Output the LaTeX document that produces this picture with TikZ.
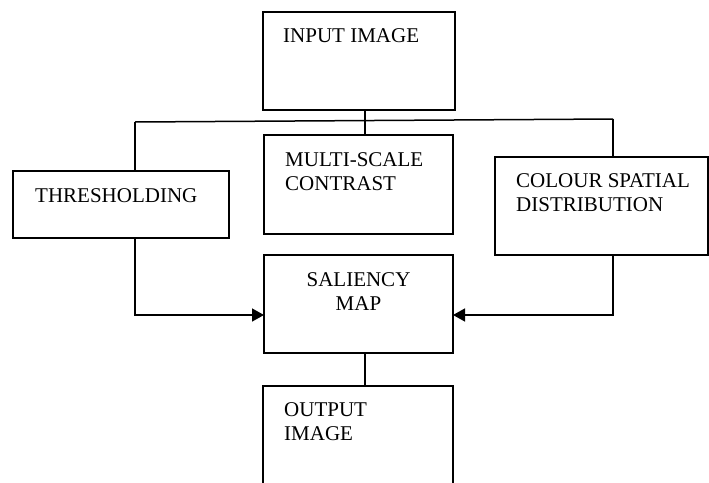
\documentclass[tikz,border=0pt]{standalone}
\usepackage{fontspec}
\setmainfont{Liberation Serif}
\usetikzlibrary{arrows.meta,calc}
\begin{document}
\begin{tikzpicture}[x=1pt,y=-1pt,
  box/.style={draw,line width=1.5pt,rectangle,inner sep=0pt,outer sep=0pt},
  lbl/.style={font=\fontsize{21}{24}\selectfont,inner sep=0pt,align=left,anchor=base west},
  clbl/.style={font=\fontsize{21}{24}\selectfont,inner sep=0pt,align=center,anchor=base},
  conn/.style={line width=1.5pt},
  arr/.style={line width=1.5pt,-{Triangle[length=12pt,width=13pt]}}]
\useasboundingbox (0,0) rectangle (709,482);
\clip (0,0) rectangle (709,482);
% boxes
\node[box,minimum width=192pt,minimum height=98pt] (input) at (359,61) {};
\node[box,minimum width=216pt,minimum height=67pt] (thr) at (121,204.5) {};
\node[box,minimum width=189pt,minimum height=99pt] (ms) at (358.5,184.5) {};
\node[box,minimum width=189pt,minimum height=98pt] (sal) at (358.5,304) {};
\node[box,minimum width=213pt,minimum height=98pt] (col) at (601.5,206) {};
\node[box,minimum width=190pt,minimum height=130pt] (out) at (358,451) {};
% texts (base anchor = baseline of last line)
\node[lbl] (tin) at (283,42) {INPUT IMAGE};
\node[lbl] (tthr) at (35,202) {THRESHOLDING};
\node[lbl] (tms) at (285,190) {MULTI-SCALE\\CONTRAST};
\node[clbl] (tsal) at (358.5,310) {SALIENCY\\MAP};
\node[lbl] (tcol) at (516,211) {COLOUR SPATIAL\\DISTRIBUTION};
\node[lbl] (tout) at (284,440) {OUTPUT\\IMAGE};
% junctions
\coordinate (jl) at (135,122);
\coordinate (jr) at (613,119);
\coordinate (jm) at (365,120.5);
\coordinate (al) at (135,315);
\coordinate (ar) at (613,315);
% connectors
\draw[conn] (jl) -- (jr);
\draw[conn] (input.south -| jm) -- (ms.north -| jm);
\draw[conn] (jl) -- (jl |- thr.north);
\draw[conn] (jr) -- (jr |- col.north);
\draw[arr] (jl |- thr.south) -- (al) -- (al -| sal.west);
\draw[arr] (jr |- col.south) -- (ar) -- (ar -| sal.east);
\draw[conn] (sal.south -| jm) -- (out.north -| jm);
\end{tikzpicture}
\end{document}
